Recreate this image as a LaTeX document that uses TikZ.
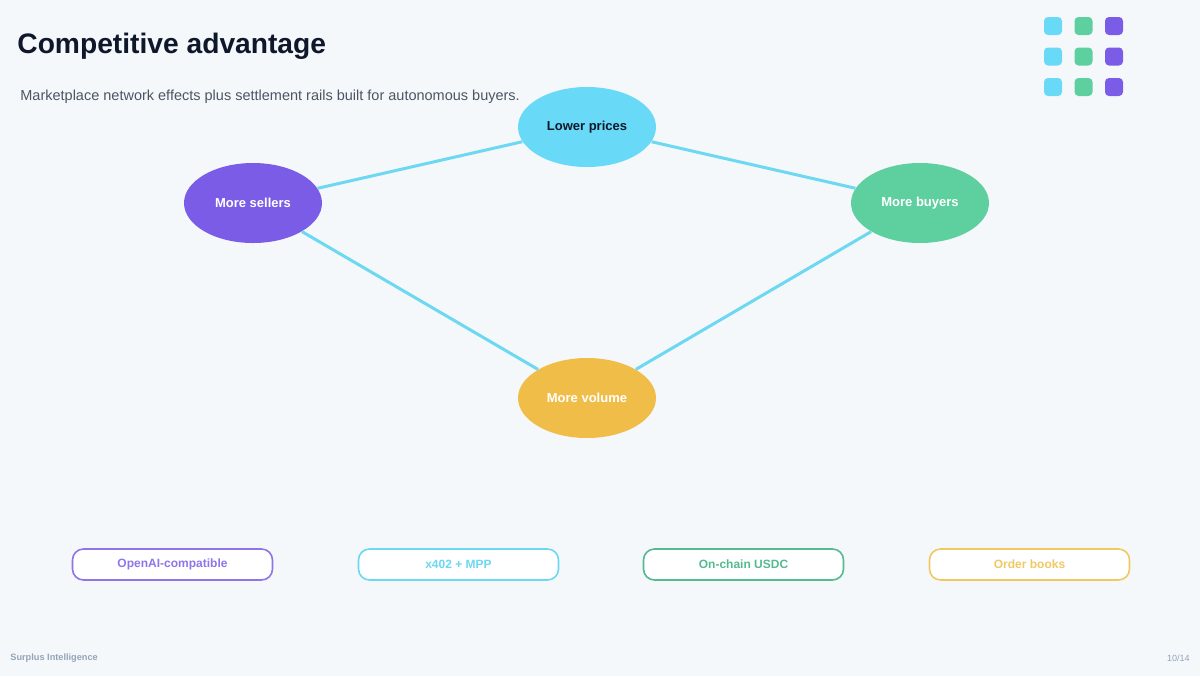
\documentclass[tikz,border=0pt]{standalone}
\usepackage{fontspec}
\setmainfont{Liberation Sans}
\usetikzlibrary{shapes.geometric}
\definecolor{pagebg}{HTML}{F5F8FB}
\definecolor{inkdark}{HTML}{0F172A}
\definecolor{inkgray}{HTML}{4B5563}
\definecolor{inkfoot}{HTML}{94A3B8}
\definecolor{flycyan}{HTML}{68D9F6}
\definecolor{flypurple}{HTML}{7B5CE6}
\definecolor{flygreen}{HTML}{5ECF9F}
\definecolor{flyyellow}{HTML}{F0BE48}
\definecolor{linkcyan}{HTML}{6CD8F1}
\begin{document}
\begin{tikzpicture}[x=0.5pt,y=-0.5pt,
    loop/.style={ellipse,minimum width=69pt,minimum height=40pt,inner sep=0pt,
      font=\bfseries\fontsize{6.5}{8}\selectfont,text=white},
    link/.style={draw=linkcyan,line width=1.5pt},
    railbox/.style={draw=#1,fill=white,rounded corners=5.5pt,line width=0.8pt,
      minimum width=100pt,minimum height=15.5pt,inner sep=0pt,
      text=#1,font=\bfseries\fontsize{6}{7}\selectfont},
    tile/.style={rounded corners=2pt}]
    \fill[pagebg] (0,0) rectangle (1200,676);
    \useasboundingbox (0,0) rectangle (1200,676);

    % header
    \path (17,46) node[anchor=west,inner sep=0pt,text=inkdark,font=\bfseries\fontsize{14.1}{17}\selectfont] (title) {Competitive advantage};
    \path (20,97) node[anchor=west,inner sep=0pt,text=inkgray,font=\fontsize{7.25}{9}\selectfont] (subtitle) {Marketplace network effects plus settlement rails built for autonomous buyers.};

    % logo tiles
    \foreach \row/\ty in {0/26,1/56.5,2/87}{
      \fill[tile,flycyan] (1044,\ty-9) rectangle (1062,\ty+9);
      \fill[tile,flygreen] (1074.5,\ty-9) rectangle (1092.5,\ty+9);
      \fill[tile,flypurple] (1105,\ty-9) rectangle (1123,\ty+9);
    }

    % flywheel
    \path (587,127) node[loop,fill=flycyan,text=inkdark] (prices) {Lower prices};
    \path (253,203) node[loop,fill=flypurple] (sellers) {More sellers};
    \path (920,203) node[loop,fill=flygreen] (buyers) {More buyers};
    \path (587,398) node[loop,fill=flyyellow] (volume) {More volume};

    \draw[link] (sellers) -- (prices);
    \draw[link] (prices) -- (buyers);
    \draw[link] (sellers) -- (volume);
    \draw[link] (buyers) -- (volume);

    % rails
    \path (172.5,564.5) node[railbox=flypurple!85!white] (openai) {OpenAI-compatible};
    \path (458.5,564.5) node[railbox=linkcyan] (xpay) {x402 + MPP};
    \path (743.5,564.5) node[railbox=flygreen!90!black] (usdc) {On-chain USDC};
    \path (1029.5,564.5) node[railbox=flyyellow!85!white] (books) {Order books};

    % footer
    \path (10,658) node[anchor=west,inner sep=0pt,text=inkfoot,font=\bfseries\fontsize{4.6}{5}\selectfont] (brand) {Surplus Intelligence};
    \path (1190,658) node[anchor=east,inner sep=0pt,text=inkfoot,font=\fontsize{4.5}{5}\selectfont] (pageno) {10/14};
\end{tikzpicture}
\end{document}
